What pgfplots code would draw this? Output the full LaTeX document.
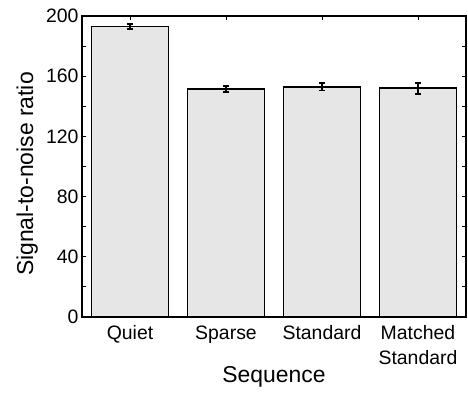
\documentclass[border=0pt]{standalone}
\usepackage{pgfplots}
\pgfplotsset{compat=1.18}
\usepackage{fontspec}
\setmainfont{Liberation Sans}
\definecolor{barfill}{HTML}{E6E6E6}
\begin{document}
\begin{tikzpicture}
\begin{axis}[
  scale only axis,
  width=384bp, height=301bp,
  xmin=0.5, xmax=4.5,
  ymin=0, ymax=200,
  xtick={1,2,3,4},
  xticklabels={Quiet,Sparse,Standard,{Matched\\Standard}},
  ytick={0,40,...,200},
  minor ytick={20,60,...,180},
  tick align=inside,
  tick pos=both,
  major tick length=4bp,
  minor tick length=4bp,
  tick style={black, line width=1pt},
  axis line style={black, line width=1.6pt},
  /pgf/number format/assume math mode=true,
  ticklabel style={font=\fontsize{19.5}{25}\selectfont},
  xticklabel style={align=center, anchor=north, yshift=-5bp},
  label style={font=\fontsize{23}{27}\selectfont},
  xlabel={Sequence},
  ylabel={Signal-to-noise ratio},
  xlabel style={at={(axis description cs:0.5,-0.219)}, anchor=base},
  ylabel style={at={(axis description cs:-0.143,0.475)}, anchor=center},
]
\addplot[ybar, bar width=0.8, fill=barfill, draw=black, line width=1.6pt,
  error bars/.cd, y dir=both, y explicit,
  error bar style={line width=2pt, black},
  error mark options={rotate=90, mark size=3bp, line width=2pt, black}]
  coordinates {
  (1,193) +- (0,1.5)
  (2,151.5) +- (0,2)
  (3,153) +- (0,2.5)
  (4,152) +- (0,3.5)
};
\end{axis}
\pgfresetboundingbox
\path[use as bounding box] (current axis.south west) ++(-82bp,-82bp) rectangle ++(468bp,399bp);
\end{tikzpicture}
\end{document}
